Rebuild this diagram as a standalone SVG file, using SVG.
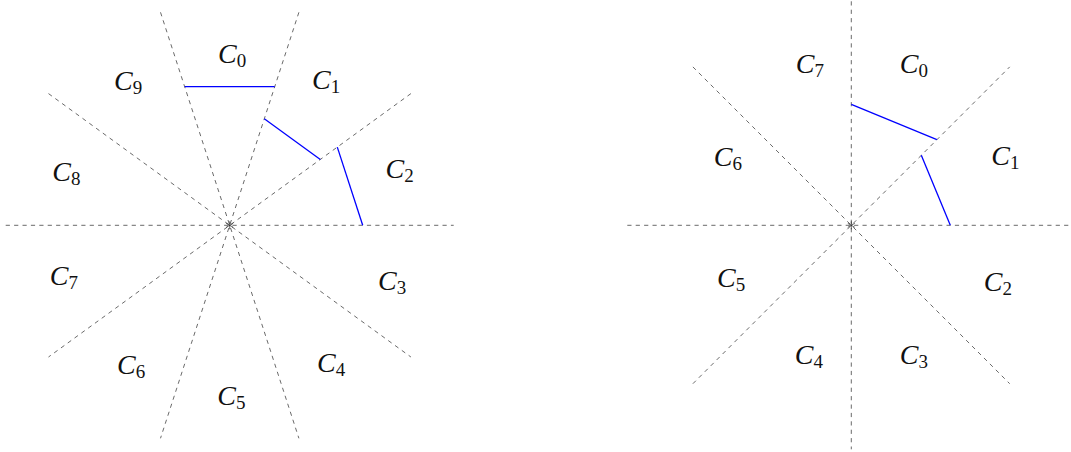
<svg xmlns="http://www.w3.org/2000/svg" width="1071" height="452" viewBox="0 0 1071 452">
<style>
.d{stroke:#444;stroke-width:0.8;stroke-dasharray:4.2 4.2;fill:none}
.b{stroke:#0000ff;stroke-width:1.3;fill:none}
.m{stroke:#222;stroke-width:0.7}
.l{font-family:"Liberation Serif",serif;font-size:28px;fill:#111}
.c{font-style:italic}
.s{font-size:19px}
</style>
<rect width="1071" height="452" fill="#fff"/>
<g id="left-connectors">
<line class="d" x1="5.7" y1="225.3" x2="453.7" y2="225.3"/>
<line class="d" x1="298.9" y1="12.3" x2="160.5" y2="438.3"/>
<line class="d" x1="160.5" y1="12.3" x2="298.9" y2="438.3"/>
<line class="d" x1="410.9" y1="93.6" x2="48.5" y2="357.0"/>
<line class="d" x1="48.5" y1="93.6" x2="410.9" y2="357.0"/>
<line class="b" x1="184.7" y1="86.7" x2="274.7" y2="86.7"/>
<line class="b" x1="264.3" y1="118.8" x2="320.3" y2="159.5"/>
<line class="b" x1="337.3" y1="147.1" x2="362.7" y2="225.3"/>
</g>
<g id="left-center" class="m">
<line x1="229.7" y1="221.3" x2="229.7" y2="229.3"/>
<line x1="226.2" y1="223.3" x2="233.2" y2="227.3"/>
<line x1="226.2" y1="227.3" x2="233.2" y2="223.3"/>
</g>
<g id="left-labels" class="l">
<text x="218" y="63"><tspan class="c">C</tspan><tspan class="s" dy="4">0</tspan></text>
<text x="312" y="89"><tspan class="c">C</tspan><tspan class="s" dy="4">1</tspan></text>
<text x="385.5" y="177.5"><tspan class="c">C</tspan><tspan class="s" dy="4">2</tspan></text>
<text x="378" y="289.5"><tspan class="c">C</tspan><tspan class="s" dy="4">3</tspan></text>
<text x="317" y="372"><tspan class="c">C</tspan><tspan class="s" dy="4">4</tspan></text>
<text x="217.3" y="404.5"><tspan class="c">C</tspan><tspan class="s" dy="4">5</tspan></text>
<text x="117" y="373.5"><tspan class="c">C</tspan><tspan class="s" dy="4">6</tspan></text>
<text x="49.7" y="285.2"><tspan class="c">C</tspan><tspan class="s" dy="4">7</tspan></text>
<text x="52.3" y="180.5"><tspan class="c">C</tspan><tspan class="s" dy="4">8</tspan></text>
<text x="114" y="89.5"><tspan class="c">C</tspan><tspan class="s" dy="4">9</tspan></text>
</g>
<g id="right-connectors">
<line class="d" x1="627.3" y1="225.3" x2="1075.3" y2="225.3"/>
<line class="d" x1="851.3" y1="1.3" x2="851.3" y2="449.3"/>
<line class="d" x1="692.9" y1="66.9" x2="1009.7" y2="383.7"/>
<line class="d" x1="692.9" y1="383.7" x2="1009.7" y2="66.9"/>
<line class="b" x1="851.3" y1="104.3" x2="936.9" y2="139.7"/>
<line class="b" x1="921.3" y1="155.3" x2="950.3" y2="225.3"/>
</g>
<g id="right-center" class="m">
<line x1="851.3" y1="221.3" x2="851.3" y2="229.3"/>
<line x1="847.8" y1="223.3" x2="854.8" y2="227.3"/>
<line x1="847.8" y1="227.3" x2="854.8" y2="223.3"/>
</g>
<g id="right-labels" class="l">
<text x="899.7" y="72.8"><tspan class="c">C</tspan><tspan class="s" dy="4">0</tspan></text>
<text x="991.3" y="164.5"><tspan class="c">C</tspan><tspan class="s" dy="4">1</tspan></text>
<text x="983.7" y="290.5"><tspan class="c">C</tspan><tspan class="s" dy="4">2</tspan></text>
<text x="899.7" y="363.8"><tspan class="c">C</tspan><tspan class="s" dy="4">3</tspan></text>
<text x="794.7" y="363.8"><tspan class="c">C</tspan><tspan class="s" dy="4">4</tspan></text>
<text x="717" y="286.8"><tspan class="c">C</tspan><tspan class="s" dy="4">5</tspan></text>
<text x="713.7" y="166.2"><tspan class="c">C</tspan><tspan class="s" dy="4">6</tspan></text>
<text x="795.7" y="72.8"><tspan class="c">C</tspan><tspan class="s" dy="4">7</tspan></text>
</g>
</svg>
